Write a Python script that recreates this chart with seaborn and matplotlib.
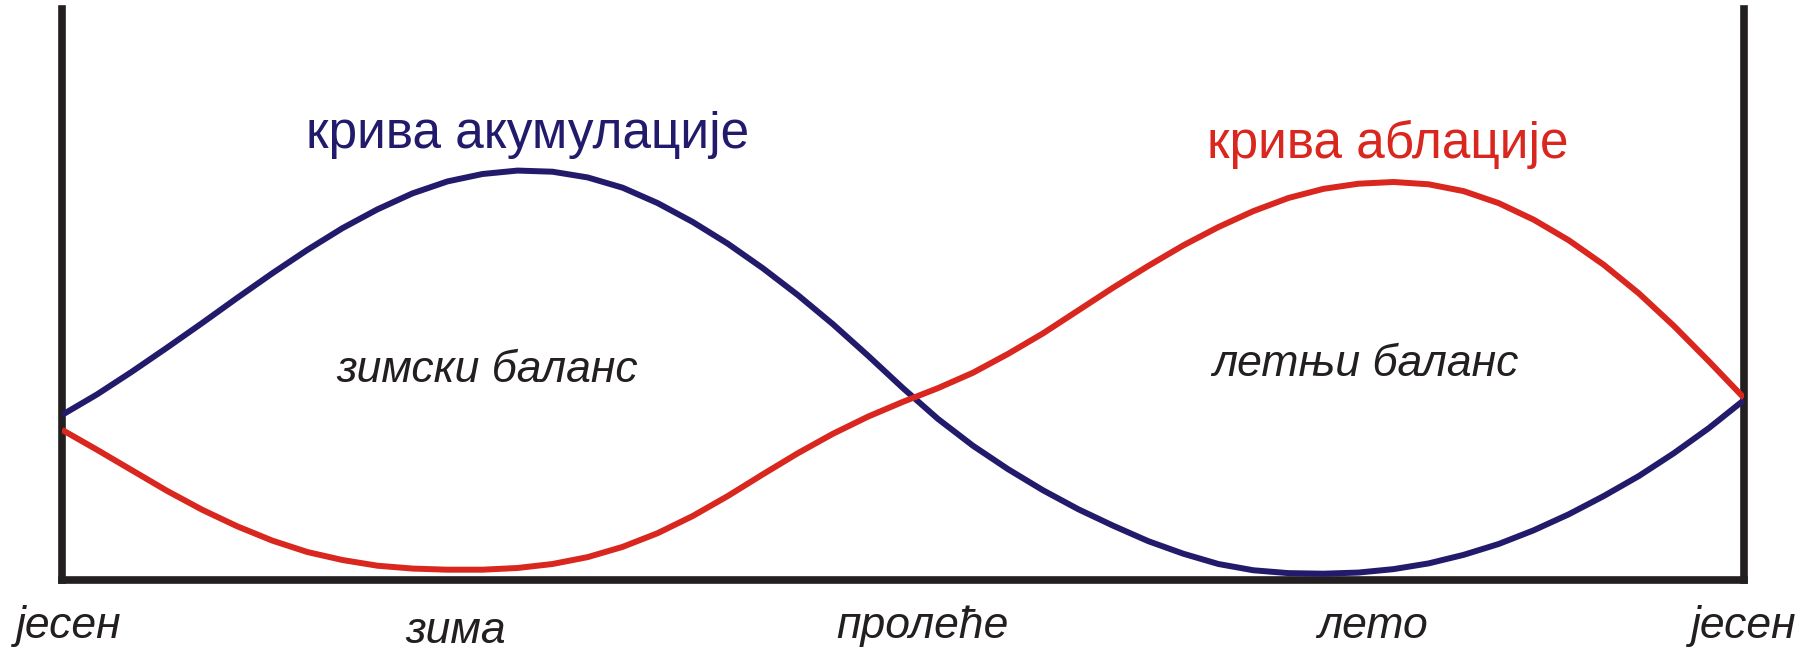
"""Accumulation and ablation curves of a glacier through the year."""

import numpy as np
import seaborn as sns
import pandas as pd
import matplotlib.pyplot as plt

# months from autumn (0) to the next autumn (12), read every quarter month
months = np.arange(0, 12.01, 0.25)
accumulation = [28.9, 32.5, 36.5, 40.7, 45.0, 49.4, 53.7, 57.8, 61.6, 64.9, 67.7, 69.8,
                71.1, 71.7, 71.5, 70.5, 68.7, 66.0, 62.7, 58.9, 54.6, 49.9, 44.8, 39.3,
                33.6, 28.2, 23.5, 19.4, 15.7, 12.4, 9.5, 6.8, 4.6, 2.8, 1.7, 1.2,
                1.1, 1.3, 1.9, 2.9, 4.4, 6.3, 8.7, 11.5, 14.7, 18.2, 22.2, 26.6,
                31.5]
ablation = [26.3, 22.8, 19.2, 15.6, 12.3, 9.4, 6.9, 4.9, 3.5, 2.5, 2.0, 1.8,
            1.8, 2.1, 2.8, 4.0, 5.8, 8.2, 11.2, 14.7, 18.5, 22.2, 25.6, 28.6,
            31.2, 33.6, 36.3, 39.6, 43.2, 47.2, 51.2, 55.0, 58.6, 61.8, 64.6, 66.9,
            68.5, 69.4, 69.7, 69.3, 68.1, 66.0, 63.1, 59.5, 55.2, 50.2, 44.5, 38.3,
            31.9]

seasons = ["јесен", "зима", "пролеће", "лето", "јесен"]
season_pos = [0.05, 2.81, 6.14, 9.35, 12.0]

BLUE = "#221b6c"
RED = "#d9261e"
DARK = "#231f20"

n = len(months)
df = pd.DataFrame({"month": np.concatenate([months, months]),
                   "value": accumulation + ablation,
                   "curve": ["крива акумулације"] * n + ["крива аблације"] * n})

sns.set_theme(style="white")
plt.rcParams["font.family"] = ["Liberation Sans", "DejaVu Sans"]

fig = plt.figure(figsize=(18.13, 6.51), dpi=100)
ax = fig.add_axes([0.0342, 0.1091, 0.9277, 0.8771])

sns.lineplot(data=df, x="month", y="value", hue="curve", estimator=None, sort=False,
             palette={"крива акумулације": BLUE, "крива аблације": RED},
             linewidth=4.3, legend=False, ax=ax, zorder=3,
             solid_joinstyle="round", solid_capstyle="butt")

ax.set_xlim(0, 12)
ax.set_ylim(0, 100)
ax.set_xticks([])
ax.set_yticks([])
ax.set_xlabel("")
ax.set_ylabel("")
ax.spines["top"].set_visible(False)
for side in ["left", "right", "bottom"]:
    ax.spines[side].set_color(DARK)
    ax.spines[side].set_linewidth(5.5)

ax.text(3.32, 75.7, "крива акумулације", color=BLUE, fontsize=37, ha="center", va="baseline")
ax.text(9.46, 73.9, "крива аблације", color=RED, fontsize=37, ha="center", va="baseline")
ax.text(3.03, 34.7, "зимски баланс", color=DARK, fontsize=32, style="italic",
        ha="center", va="baseline")
ax.text(9.30, 35.7, "летњи баланс", color=DARK, fontsize=32, style="italic",
        ha="center", va="baseline")

for lab, pos in zip(seasons, season_pos):
    y = -11.1 if lab == "зима" else -10.2
    ax.text(pos, y, lab, color=DARK, fontsize=32, style="italic", ha="center",
            va="baseline", clip_on=False)

fig.savefig("out.png", dpi=100, facecolor="white")
